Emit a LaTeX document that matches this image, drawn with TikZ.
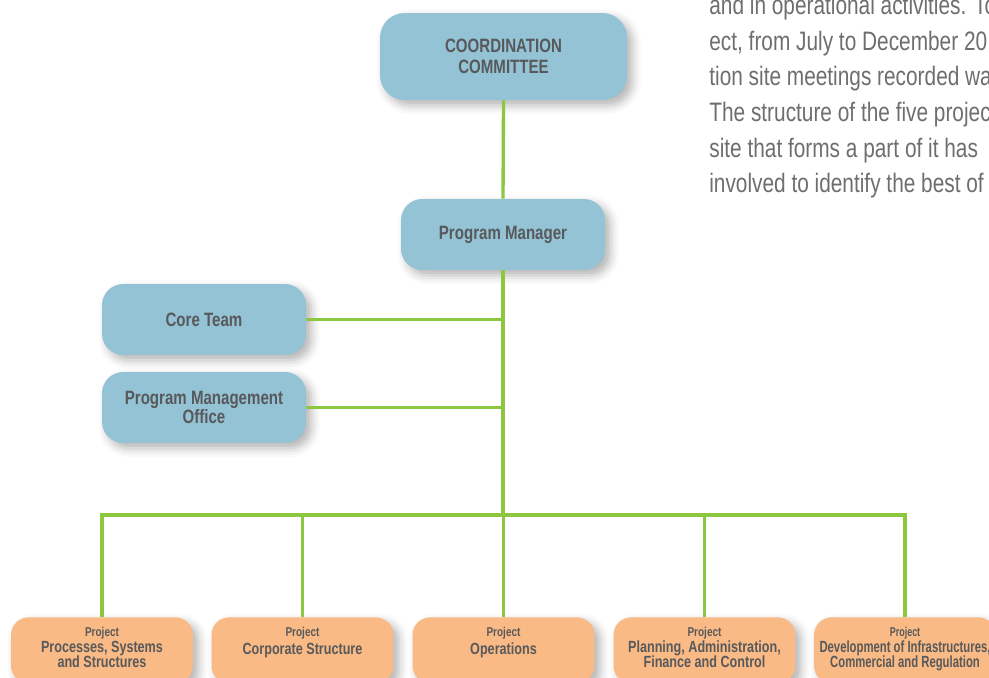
\documentclass[tikz,border=0pt]{standalone}
\usepackage{fontspec}
\setmainfont{Liberation Sans}[FakeStretch=0.78]
\newfontfamily\narrowfont{Liberation Sans}[FakeStretch=0.7]
\usetikzlibrary{positioning, shadows.blur}
\definecolor{boxblue}{RGB}{148,195,214}
\definecolor{boxorange}{RGB}{249,186,133}
\definecolor{linkgreen}{RGB}{141,198,63}
\definecolor{labelgray}{RGB}{88,89,91}
\definecolor{prosegray}{RGB}{110,110,110}

\begin{document}
\begin{tikzpicture}[x=0.02cm, y=-0.02cm,
            % Define node styles
            unit/.style={rectangle, fill=boxblue, text=labelgray, rounded corners=12pt, align=center,
                minimum width=4.08cm, minimum height=1.42cm, inner sep=0pt,
                font=\fontsize{11}{10}\selectfont\bfseries,
                blur shadow={shadow xshift=3pt, shadow yshift=-3pt, shadow blur radius=5pt, shadow opacity=30}},
            project/.style={rectangle, fill=boxorange, rounded corners=10pt,
                minimum width=3.64cm, minimum height=1.32cm, inner sep=0pt,
                blur shadow={shadow xshift=3pt, shadow yshift=-3pt, shadow blur radius=5pt, shadow opacity=30}},
            projtext/.style={anchor=north, align=center, inner sep=0pt, text=labelgray,
                font=\fontsize{9.2}{8.8}\selectfont\bfseries},
            prose/.style={anchor=base west, inner sep=0pt, text=prosegray, font=\fontsize{15.2}{18}\selectfont},
            link/.style={draw=linkgreen, line width=1.9pt}
        ]
        \useasboundingbox (0,0) rectangle (989,678);
        \clip (0,0) rectangle (989,678);

        % Text beside the chart
        \node[prose] (p1) at (709,14.5) {and in operational activities. To};
        \node[prose] (p2) at (709,50.2) {ect, from July to December 20};
        \node[prose] (p3) at (709,86) {tion site meetings recorded wa};
        \node[prose] (p4) at (709,121.6) {The structure of the five projec};
        \node[prose] (p5) at (709,157.4) {site that forms a part of it has};
        \node[prose] (p6) at (709,193) {involved to identify the best of t};

        % Steering part
        \node[unit, minimum width=4.94cm, minimum height=1.74cm, rounded corners=14pt,
            font=\fontsize{11}{12}\selectfont\bfseries] (committee) at (503.5,56.5) {COORDINATION\\COMMITTEE};
        \node[unit] (manager) at (503,234.5) {Program Manager};
        \node[unit] (core) at (204,319.5) {Core Team};
        \node[unit] (pmo) at (204,407.5) {Program Management\\Office};

        % Projects
        \node[project, anchor=north] (proj1) at (102,617) {};
        \node[project, anchor=north] (proj2) at (302.5,617) {};
        \node[project, anchor=north] (proj3) at (503.5,617) {};
        \node[project, anchor=north] (proj4) at (704.5,617) {};
        \node[project, anchor=north] (proj5) at (905,617) {};

        \node[projtext] (proj1t) at ([yshift=-0.2cm]proj1.north) {{\fontsize{7.3}{8.8}\selectfont Project}\\Processes, Systems\\and Structures};
        \node[projtext] (proj2t) at ([yshift=-0.2cm]proj2.north) {{\fontsize{7.3}{8.8}\selectfont Project}\\[1.6pt]Corporate Structure};
        \node[projtext] (proj3t) at ([yshift=-0.2cm]proj3.north) {{\fontsize{7.3}{8.8}\selectfont Project}\\[1.6pt]Operations};
        \node[projtext] (proj4t) at ([yshift=-0.2cm]proj4.north) {{\fontsize{7.3}{8.8}\selectfont Project}\\Planning, Administration,\\Finance and Control};
        \node[projtext, font=\fontsize{9.2}{8.8}\narrowfont\bfseries] (proj5t) at ([yshift=-0.2cm]proj5.north) {{\fontsize{7.3}{8.8}\selectfont Project}\\Development of Infrastructures,\\Commercial and Regulation};

        % Connect the chart
        \coordinate (bus) at (503,515);
        \draw[link] (committee.south) -- (manager.north);
        \draw[link] (manager.south) -- (bus);
        \draw[link] (core.east) -- (core.east -| manager.south);
        \draw[link] (pmo.east) -- (pmo.east -| manager.south);
        \foreach \i in {1,...,5}
            \draw[link] (proj\i.north) |- (bus);

        \end{tikzpicture}
\end{document}
